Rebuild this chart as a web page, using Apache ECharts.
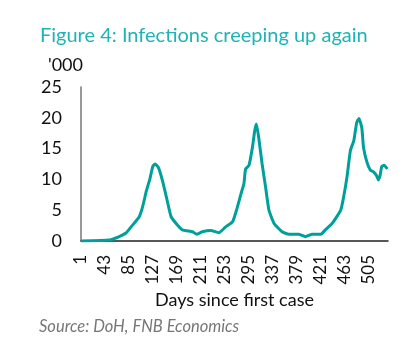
<!DOCTYPE html>
<html>
<head>
<meta charset="utf-8">
<script src="https://cdn.jsdelivr.net/npm/echarts@6/dist/echarts.min.js"></script>
<style>
  html, body { margin: 0; padding: 0; background: #fff; }
  #chart { width: 405px; height: 350px; }
</style>
</head>
<body>
<div id="chart"></div>
<script>
// days since first case
const days = [1, 51, 68, 80, 89, 103, 109, 116, 122, 127, 131, 137, 144, 151, 159, 168, 179, 197, 204, 214,
  229, 243, 255, 267, 274, 282, 287, 290, 296, 302, 306, 309, 313, 319, 325, 331, 340, 354, 366, 383,
  395, 407, 422, 430, 442, 457, 462, 468, 474, 480, 485, 489, 494, 497, 503, 509, 515, 520, 523, 526,
  529, 533, 539];
// infections, '000
const infections = [0, 0.15, 0.7, 1.3, 2.3, 3.9, 5.5, 8.2, 10.1, 12.1, 12.5, 11.9, 9.8, 7.1, 4.0, 2.85, 1.8, 1.5, 1.1, 1.5,
  1.7, 1.35, 2.3, 3.1, 5.0, 7.7, 9.3, 11.7, 12.3, 15.2, 17.9, 19.0, 16.8, 12.5, 8.8, 5.0, 2.85, 1.5, 1.1, 1.1,
  0.7, 1.1, 1.1, 1.8, 2.85, 5.0, 7.1, 10.4, 14.7, 16.3, 19.2, 19.9, 18.4, 15.2, 12.8, 11.5, 11.2, 10.6, 9.9, 10.6,
  12.1, 12.3, 11.7];
const yTicks = [0, 5, 10, 15, 20, 25];

const chart = echarts.init(document.getElementById('chart'));

// x is offset by one day so ticks land on 1, 43, 85 ...
const points = days.map((d, i) => [d - 1, infections[i]]);

chart.setOption({
  animation: false,
  title: [
    {
      text: 'Figure 4: Infections creeping up again',
      left: 35, top: 21,
      textStyle: { color: '#1fb3b5', fontSize: 20, fontWeight: 'normal', fontFamily: 'Lato' },
    },
    {
      text: "'000",
      left: 43, top: 51,
      textStyle: { color: '#111', fontSize: 18, fontWeight: 'normal', fontFamily: 'Lato' },
    },
    {
      text: 'Source: DoH, FNB Economics',
      left: 34, top: 313,
      textStyle: { color: '#777', fontSize: 16.5, fontStyle: 'italic', fontWeight: 'normal', fontFamily: 'Lato' },
    },
  ],
  grid: { left: 81, right: 17, top: 87, bottom: 109 },
  xAxis: {
    type: 'value',
    min: 0, max: 539, interval: 42,
    name: 'Days since first case',
    nameLocation: 'middle',
    nameGap: 50,
    nameTextStyle: { color: '#111', fontSize: 18, fontFamily: 'Lato' },
    splitLine: { show: false },
    axisTick: { show: false },
    axisLine: { lineStyle: { color: '#222', width: 1.5 } },
    axisLabel: {
      rotate: 90,
      color: '#111', fontSize: 17, fontFamily: 'Lato', margin: 14,
      formatter: v => (v % 42 === 0 ? String(v + 1) : ''),
    },
  },
  yAxis: {
    type: 'value',
    min: yTicks[0], max: yTicks[yTicks.length - 1], interval: 5,
    splitLine: { show: false },
    axisTick: { show: false },
    axisLine: { show: true, lineStyle: { color: '#777', width: 1.5 } },
    axisLabel: { color: '#111', fontSize: 18, fontFamily: 'Lato', margin: 19 },
  },
  series: [{
    type: 'line',
    data: points,
    showSymbol: false,
    smooth: 0.15,
    lineStyle: { color: '#00a09a', width: 3 },
  }],
});
</script>
</body>
</html>
